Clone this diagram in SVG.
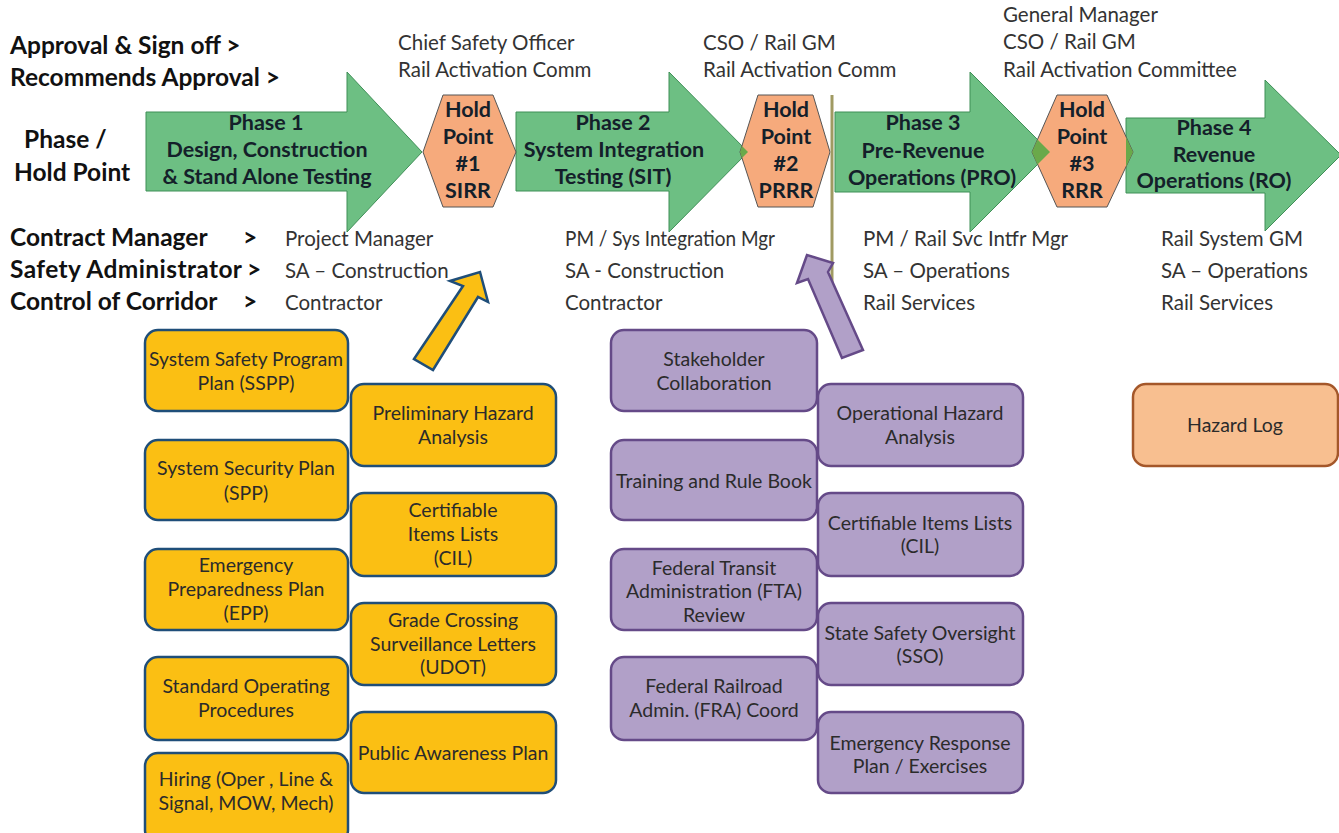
<svg xmlns="http://www.w3.org/2000/svg" width="1339" height="833" viewBox="0 0 1339 833">
<style>
.lbl{font-family:Lato,"Liberation Sans",sans-serif;font-weight:bold;font-size:24.5px;fill:#111}
.gry{font-family:Lato,"Liberation Sans",sans-serif;font-size:20.5px;fill:#333}
.ph{font-family:Lato,"Liberation Sans",sans-serif;font-weight:bold;font-size:21.5px;fill:#14202a;text-anchor:middle}
.arrow{fill:#6dbf83;stroke:#3f8f57;stroke-width:1}
.hex{fill:#f6aa7c;stroke:#555;stroke-width:1}
.ovl{fill:#6aa94a}
.yb{fill:#fbbf13;stroke:#1f4e79;stroke-width:2.5}
.pb{fill:#b1a0c8;stroke:#654a88;stroke-width:2.5}
.bt{font-family:Lato,"Liberation Sans",sans-serif;font-size:19.5px;fill:#2b2b2b;text-anchor:middle}
</style>
<rect width="1339" height="833" fill="#fff"/>

<g id="labels">
<text class="lbl" x="10" y="54">Approval &amp; Sign off &gt;</text>
<text class="lbl" x="10" y="86">Recommends Approval &gt;</text>
<text class="lbl" x="24" y="148">Phase  /</text>
<text class="lbl" x="14" y="181">Hold Point</text>
<text class="lbl" x="10" y="246">Contract Manager</text>
<text class="lbl" x="243" y="246">&gt;</text>
<text class="lbl" x="10" y="278" textLength="232" lengthAdjust="spacing">Safety Administrator</text>
<text class="lbl" x="247" y="278">&gt;</text>
<text class="lbl" x="10" y="310">Control of Corridor</text>
<text class="lbl" x="243" y="310">&gt;</text>
</g>

<g id="approvals">
<text class="gry" x="398" y="50">Chief Safety Officer</text>
<text class="gry" x="398" y="77">Rail Activation Comm</text>
<text class="gry" x="703" y="50">CSO / Rail GM</text>
<text class="gry" x="703" y="77">Rail Activation Comm</text>
<text class="gry" x="1003" y="22">General Manager</text>
<text class="gry" x="1003" y="49">CSO / Rail GM</text>
<text class="gry" x="1003" y="77">Rail Activation Committee</text>
</g>

<g id="roles">
<text class="gry" x="285" y="246">Project Manager</text>
<text class="gry" x="285" y="278">SA – Construction</text>
<text class="gry" x="285" y="310">Contractor</text>
<text class="gry" x="565" y="246" textLength="210" lengthAdjust="spacingAndGlyphs">PM / Sys Integration Mgr</text>
<text class="gry" x="565" y="278">SA - Construction</text>
<text class="gry" x="565" y="310">Contractor</text>
<text class="gry" x="863" y="246">PM / Rail Svc Intfr Mgr</text>
<text class="gry" x="863" y="278">SA – Operations</text>
<text class="gry" x="863" y="310">Rail Services</text>
<text class="gry" x="1161" y="246">Rail System  GM</text>
<text class="gry" x="1161" y="278">SA – Operations</text>
<text class="gry" x="1161" y="310">Rail Services</text>
</g>

<g id="phase1">
<polygon class="arrow" points="146,112 347,112 347,72 422,152 347,232 347,191 146,191"/>
<text class="ph" x="266" y="130">Phase 1</text>
<text class="ph" x="267" y="157">Design, Construction</text>
<text class="ph" x="267" y="184">&amp; Stand Alone Testing</text>
</g>
<g id="phase2">
<polygon class="arrow" points="516,112 669,112 669,72 748,152 669,232 669,191 516,191"/>
<text class="ph" x="613" y="130">Phase 2</text>
<text class="ph" x="614" y="157">System Integration</text>
<text class="ph" x="613" y="184">Testing (SIT)</text>
</g>
<g id="phase3">
<polygon class="arrow" points="835,112 970,112 970,72 1050,152 970,232 970,192 835,192"/>
<text class="ph" x="923" y="130">Phase 3</text>
<text class="ph" x="923" y="158">Pre-Revenue</text>
<text class="ph" x="932" y="185">Operations (PRO)</text>
</g>
<g id="phase4">
<polygon class="arrow" points="1126,118 1265,118 1265,80 1341,155 1265,231 1265,193 1126,193"/>
<text class="ph" x="1214" y="135">Phase 4</text>
<text class="ph" x="1214" y="162">Revenue</text>
<text class="ph" x="1214" y="188">Operations (RO)</text>
</g>

<g id="hold1">
<polygon class="hex" points="423,152 443,95 493,95 516,152 493,207 443,207"/>
<text class="ph" x="468" y="117">Hold</text>
<text class="ph" x="468" y="144">Point</text>
<text class="ph" x="468" y="171">#1</text>
<text class="ph" x="468" y="198">SIRR</text>
</g>
<g id="hold2">
<polygon class="hex" points="740,152 758,95 813,95 830,152 813,207 758,207"/>
<polygon class="ovl" points="740,152 742,146 748,152 742,158"/>
<text class="ph" x="786" y="117">Hold</text>
<text class="ph" x="786" y="144">Point</text>
<text class="ph" x="786" y="171">#2</text>
<text class="ph" x="786" y="198">PRRR</text>
</g>
<g id="hold3">
<polygon class="hex" points="1032,152 1057,95 1107,95 1133,152 1107,207 1057,207"/>
<polygon class="ovl" points="1032,152 1037.5,139.5 1050,152 1037.5,164.5"/>
<polygon class="ovl" points="1126,137 1133,152 1126,167"/>
<text class="ph" x="1082" y="117">Hold</text>
<text class="ph" x="1082" y="144">Point</text>
<text class="ph" x="1082" y="171">#3</text>
<text class="ph" x="1082" y="198">RRR</text>
</g>

<g id="connectors">
<line x1="832" y1="95" x2="832" y2="318" stroke="#a09a62" stroke-width="3"/>
<polygon points="414,359 463,286 450,281 480,272 488,302 478,297 433,370" fill="#fbbf13" stroke="#1f4e79" stroke-width="2.5" stroke-linejoin="miter"/>
<polygon points="842,358 808,279 797,283 807,255 833,263 828,272 863,350" fill="#b1a0c8" stroke="#654a88" stroke-width="2.5"/>
</g>

<g id="sspp"><rect class="yb" x="145" y="330" width="203" height="81" rx="13"/>
<text class="bt" x="246" y="366" textLength="194" lengthAdjust="spacingAndGlyphs">System Safety Program</text><text class="bt" x="246" y="390">Plan (SSPP)</text></g>
<g id="spp"><rect class="yb" x="145" y="440" width="203" height="80" rx="13"/>
<text class="bt" x="246" y="475">System Security Plan</text><text class="bt" x="246" y="500">(SPP)</text></g>
<g id="epp"><rect class="yb" x="145" y="549" width="203" height="81" rx="13"/>
<text class="bt" x="246" y="572">Emergency</text><text class="bt" x="246" y="596">Preparedness Plan</text><text class="bt" x="246" y="620">(EPP)</text></g>
<g id="sop"><rect class="yb" x="145" y="657" width="203" height="83" rx="13"/>
<text class="bt" x="246" y="693">Standard Operating</text><text class="bt" x="246" y="717">Procedures</text></g>
<g id="hiring"><rect class="yb" x="145" y="753" width="203" height="90" rx="13"/>
<text class="bt" x="246" y="786">Hiring (Oper , Line &amp;</text><text class="bt" x="246" y="810">Signal, MOW, Mech)</text></g>

<g id="pha"><rect class="yb" x="351" y="384" width="205" height="82" rx="13"/>
<text class="bt" x="453" y="420">Preliminary  Hazard</text><text class="bt" x="453" y="444">Analysis</text></g>
<g id="cil1"><rect class="yb" x="351" y="493" width="205" height="83" rx="13"/>
<text class="bt" x="453" y="517">Certifiable</text><text class="bt" x="453" y="541">Items Lists</text><text class="bt" x="453" y="565">(CIL)</text></g>
<g id="grade"><rect class="yb" x="351" y="603" width="205" height="82" rx="13"/>
<text class="bt" x="453" y="627">Grade Crossing</text><text class="bt" x="453" y="651">Surveillance Letters</text><text class="bt" x="453" y="674">(UDOT)</text></g>
<g id="pap"><rect class="yb" x="351" y="712" width="205" height="81" rx="13"/>
<text class="bt" x="453" y="760">Public Awareness Plan</text></g>

<g id="stake"><rect class="pb" x="611" y="330" width="206" height="81" rx="13"/>
<text class="bt" x="714" y="366">Stakeholder</text><text class="bt" x="714" y="390">Collaboration</text></g>
<g id="train"><rect class="pb" x="611" y="440" width="206" height="80" rx="13"/>
<text class="bt" x="714" y="488">Training and Rule Book</text></g>
<g id="fta"><rect class="pb" x="611" y="549" width="206" height="81" rx="13"/>
<text class="bt" x="714" y="575">Federal Transit</text><text class="bt" x="714" y="598">Administration (FTA)</text><text class="bt" x="714" y="622">Review</text></g>
<g id="fra"><rect class="pb" x="611" y="657" width="206" height="83" rx="13"/>
<text class="bt" x="714" y="693">Federal Railroad</text><text class="bt" x="714" y="717">Admin. (FRA) Coord</text></g>

<g id="oha"><rect class="pb" x="818" y="384" width="205" height="82" rx="13"/>
<text class="bt" x="920" y="420">Operational Hazard</text><text class="bt" x="920" y="444">Analysis</text></g>
<g id="cil2"><rect class="pb" x="818" y="493" width="205" height="83" rx="13"/>
<text class="bt" x="920" y="530">Certifiable Items Lists</text><text class="bt" x="920" y="553">(CIL)</text></g>
<g id="sso"><rect class="pb" x="818" y="603" width="205" height="82" rx="13"/>
<text class="bt" x="920" y="640">State Safety Oversight</text><text class="bt" x="920" y="663">(SSO)</text></g>
<g id="erp"><rect class="pb" x="818" y="712" width="205" height="81" rx="13"/>
<text class="bt" x="920" y="750">Emergency Response</text><text class="bt" x="920" y="773">Plan / Exercises</text></g>

<g id="hazardlog"><rect x="1133" y="384" width="205" height="82" rx="13" fill="#f8bf90" stroke="#a4572a" stroke-width="2.5"/>
<text class="bt" x="1235" y="432">Hazard Log</text></g>
</svg>
